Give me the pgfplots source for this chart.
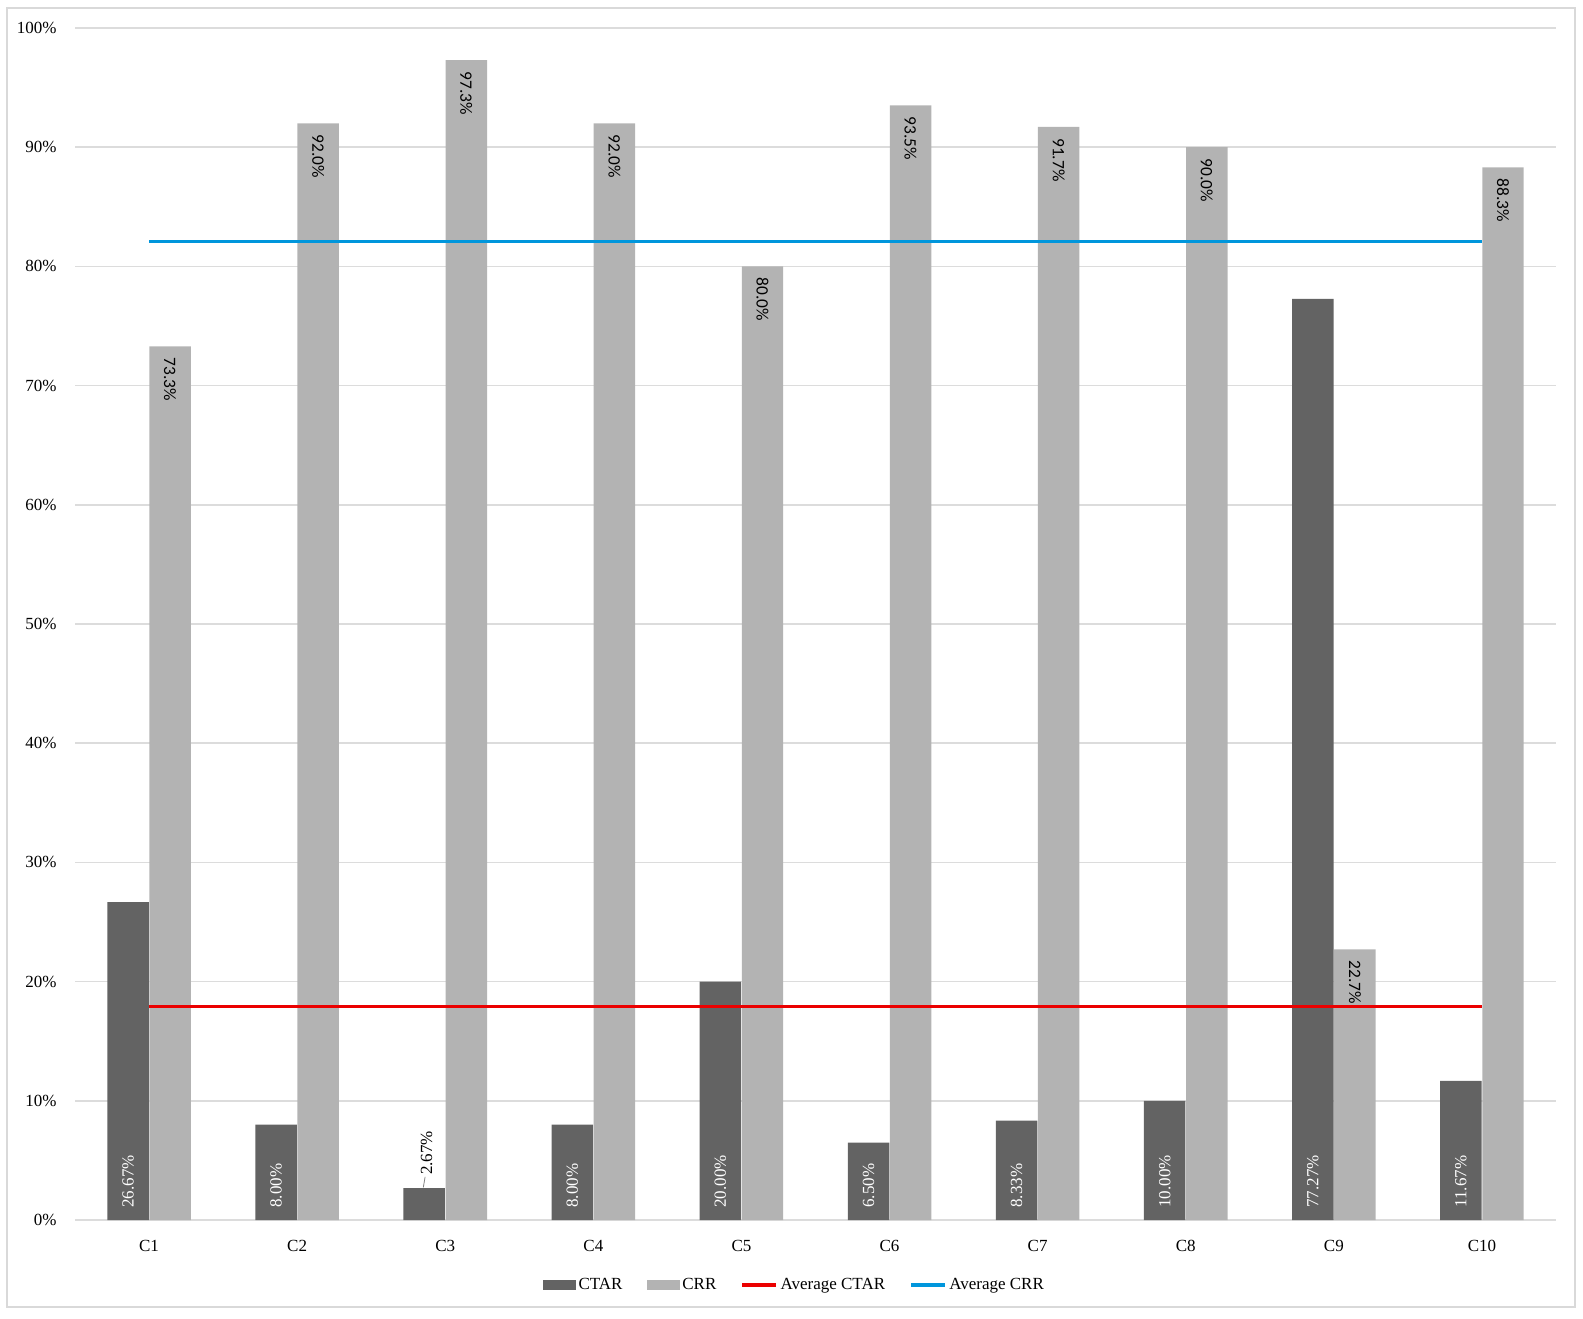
\documentclass[border=0pt]{standalone}
\usepackage{pgfplots}
\pgfplotsset{compat=1.18}
\usepackage{pgfplotstable}
\usepackage{fontspec}
\setmainfont{Liberation Serif}
\newfontfamily\labfont{Carlito}
\definecolor{ctarc}{RGB}{99,99,99}
\definecolor{crrc}{RGB}{179,179,179}
\definecolor{avgred}{RGB}{235,0,0}
\definecolor{avgblue}{RGB}{0,150,220}
\definecolor{gridc}{RGB}{220,220,220}
\definecolor{framec}{RGB}{217,217,217}

\pgfplotstableread{
x ctar crr ctarlab crrlab
0 26.67 73.3 26.67\% 73.3\%
1 8.00 92.0 8.00\% 92.0\%
2 2.67 97.3 {} 97.3\%
3 8.00 92.0 8.00\% 92.0\%
4 20.00 80.0 20.00\% 80.0\%
5 6.50 93.5 6.50\% 93.5\%
6 8.33 91.7 8.33\% 91.7\%
7 10.00 90.0 10.00\% 90.0\%
8 77.27 22.7 77.27\% 22.7\%
9 11.67 88.3 11.67\% 88.3\%
}\datatable

\begin{document}
\begin{tikzpicture}
\path (0,0) rectangle (791.5pt,659pt);
\draw[framec, line width=0.6pt] (3.5pt,5.5pt) rectangle (787.5pt,655pt);
\begin{axis}[
  at={(37.5pt,49pt)}, anchor=south west,
  scale only axis, width=740.5pt, height=596pt,
  xmin=-0.5, xmax=9.5, ymin=0, ymax=100,
  clip=false,
  axis line style={draw=none},
  major tick length=0pt,
  /pgf/number format/assume math mode=true,
  ytick={0,10,...,100},
  yticklabel={\pgfmathprintnumber{\tick}\%},
  yticklabel style={anchor=east, inner sep=0pt, xshift=-9pt},
  ymajorgrids, grid style={gridc, line width=0.8pt},
  xtick={0,...,9},
  xticklabels={C1,C2,C3,C4,C5,C6,C7,C8,C9,C10},
  xticklabel style={anchor=north, inner sep=0pt, yshift=-9.7pt},
  tick label style={font=\fontsize{8.5}{10}\selectfont},
  legend style={at={(0.486,-0.0545)}, anchor=center, draw=none, fill=none,
    font=\fontsize{8.5}{10}\selectfont,
    nodes={inner xsep=1.2pt},
    /tikz/every even column/.append style={column sep=11pt}},
  legend columns=4,
  legend cell align=left,
]
\addplot[ybar, bar width=0.28, bar shift=-0.142, fill=ctarc, draw=none,
  nodes near coords, point meta=explicit symbolic,
  visualization depends on={y \as \rawy},
  every node near coord/.append style={shift={(axis direction cs:-0.142,-\rawy)}, rotate=90, anchor=west, inner xsep=6pt, inner ysep=0pt, text=white, font=\fontsize{8.5}{10}\selectfont},
  legend image code/.code={\fill[ctarc] (0pt,-2.6pt) rectangle (16.5pt,2.6pt);}
] table[x=x, y=ctar, meta=ctarlab] {\datatable};
\addplot[ybar, bar width=0.28, bar shift=0.142, fill=crrc, draw=none,
  nodes near coords, point meta=explicit symbolic,
  every node near coord/.append style={shift={(axis direction cs:0.142,0)}, rotate=-90, anchor=west, inner xsep=5.5pt, inner ysep=0pt, text=black, font=\labfont\fontsize{8.7}{10}\selectfont},
  legend image code/.code={\fill[crrc] (0pt,-2.6pt) rectangle (16.5pt,2.6pt);}
] table[x=x, y=crr, meta=crrlab] {\datatable};
\addplot[forget plot, ybar, bar width=0.28, bar shift=-0.142, draw=none, fill=none,
  nodes near coords, point meta=explicit symbolic,
  every node near coord/.append style={shift={(axis direction cs:-0.126,0)}, rotate=90, anchor=west, inner xsep=6.5pt, inner ysep=0pt, text=black, font=\fontsize{8.5}{10}\selectfont}
] coordinates {(2,2.67) [2.67\%]};
\addplot[avgred, line width=1.7pt, mark=none,
  legend image code/.code={\draw[avgred, line width=1.7pt] (0pt,0pt) -- (17pt,0pt);}]
  coordinates {(0,17.91) (9,17.91)};
\addplot[avgblue, line width=1.7pt, mark=none,
  legend image code/.code={\draw[avgblue, line width=1.7pt] (0pt,0pt) -- (17pt,0pt);}]
  coordinates {(0,82.08) (9,82.08)};
\draw[gray, line width=0.4pt] (axis cs:1.852,2.74) -- (axis cs:1.864,3.62);
\legend{CTAR,CRR,Average CTAR,Average CRR}
\end{axis}
\end{tikzpicture}
\end{document}
